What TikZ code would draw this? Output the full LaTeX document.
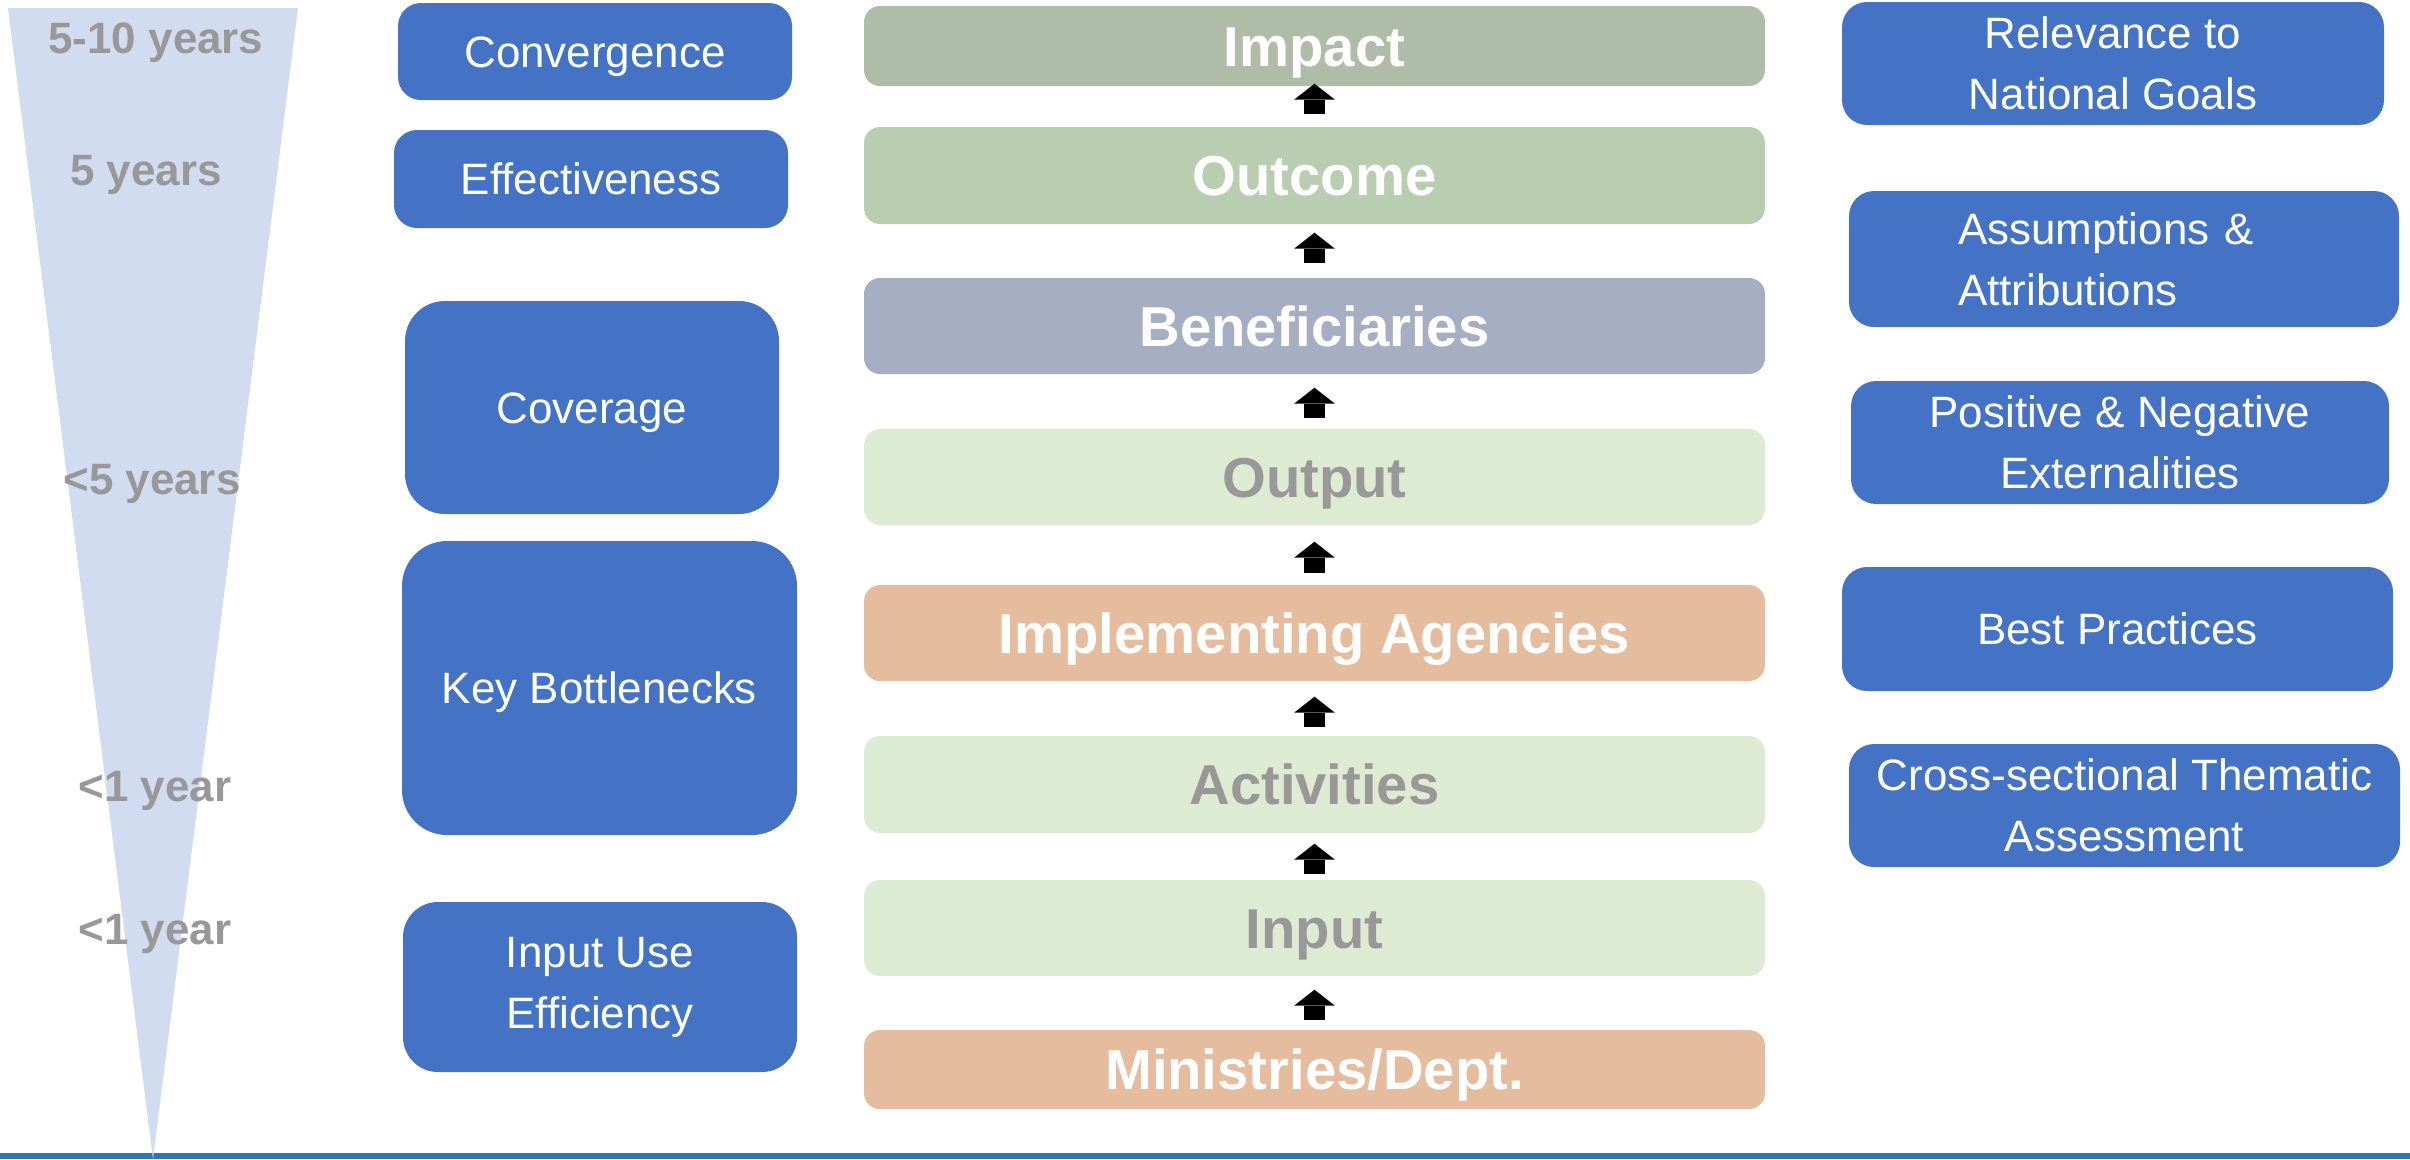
\documentclass[tikz,border=0pt]{standalone}
\usepackage{fontspec}
\setmainfont{Liberation Sans}
\usetikzlibrary{arrows.meta}
\definecolor{boxblue}{HTML}{4472C4}
\definecolor{funnelblue}{HTML}{D1DCF0}
\definecolor{barblue}{HTML}{2E75B6}
\definecolor{labelgray}{HTML}{989898}
\definecolor{impactgreen}{HTML}{AFBDA8}
\definecolor{outcomegreen}{HTML}{B9CEB1}
\definecolor{benefblue}{HTML}{A5AEC2}
\definecolor{palegreen}{HTML}{DDEBD3}
\definecolor{peach}{HTML}{E6BC9F}

\begin{document}
\begin{tikzpicture}[
  sidebox/.style={fill=boxblue, text=white, align=center, inner sep=0pt, rounded corners=0.23cm,
    font=\fontsize{12.5}{17.4}\selectfont},
  oneline/.style={text height=9pt, text depth=0pt},
  stage/.style={minimum width=9.01cm, inner sep=0pt, rounded corners=0.16cm,
    text height=11.5pt, text depth=0pt, font=\fontsize{16}{19}\selectfont\bfseries},
  yearlbl/.style={anchor=base, text=labelgray, font=\fontsize{12.5}{15}\selectfont\bfseries},
  uparrow/.style={line width=0.21cm, -{Triangle[width=0.41cm,length=0.16cm,line width=0pt]}}
]
\useasboundingbox (0,0) rectangle (24.10,-11.59);

% time scale
\fill[barblue] (0,-11.53) rectangle (24.10,-11.59);
\fill[funnelblue] (0.08,-0.08) -- (2.98,-0.08) -- (1.53,-11.59) -- cycle;
\node[yearlbl] (y1) at (1.56,-0.53) {5-10 years};
\node[yearlbl] (y2) at (1.46,-1.85) {5 years};
\node[yearlbl] (y3) at (1.52,-4.94) {<5 years};
\node[yearlbl] (y4) at (1.55,-8.01) {<1 year};
\node[yearlbl] (y5) at (1.55,-9.44) {<1 year};

% evaluation criteria
\node[sidebox, oneline, minimum width=3.94cm, minimum height=0.97cm] (conv) at (5.95,-0.515) {Convergence};
\node[sidebox, oneline, minimum width=3.94cm, minimum height=0.98cm] (eff) at (5.91,-1.79) {Effectiveness};
\node[sidebox, oneline, minimum width=3.74cm, minimum height=2.13cm, rounded corners=0.4cm] (cov) at (5.92,-4.075) {Coverage};
\node[sidebox, oneline, minimum width=3.95cm, minimum height=2.94cm, rounded corners=0.45cm] (bott) at (5.995,-6.88) {Key Bottlenecks};
\node[sidebox, minimum width=3.94cm, minimum height=1.70cm, rounded corners=0.35cm] (iue) at (6.00,-9.87) {Input Use\\Efficiency};

% results chain
\node[stage, fill=impactgreen, text=white, minimum height=0.80cm] (impact) at (13.145,-0.46) {Impact};
\node[stage, fill=outcomegreen, text=white, minimum height=0.97cm] (outcome) at (13.145,-1.755) {Outcome};
\node[stage, fill=benefblue, text=white, minimum height=0.96cm] (benef) at (13.145,-3.26) {Beneficiaries};
\node[stage, fill=palegreen, text=labelgray, minimum height=0.96cm] (output) at (13.145,-4.77) {Output};
\node[stage, fill=peach, text=white, minimum height=0.96cm] (agencies) at (13.145,-6.33) {Implementing Agencies};
\node[stage, fill=palegreen, text=labelgray, minimum height=0.97cm] (activities) at (13.145,-7.845) {Activities};
\node[stage, fill=palegreen, text=labelgray, minimum height=0.96cm] (input) at (13.145,-9.28) {Input};
\node[stage, fill=peach, text=white, minimum height=0.79cm] (ministries) at (13.145,-10.695) {Ministries/Dept.};

\foreach \lo/\hi/\sa/\sb in {outcome/impact/0.12/-0.03, benef/outcome/0.14/0.08, output/benef/0.10/0.13,
    agencies/output/0.11/0.16, activities/agencies/0.08/0.15, input/activities/0.05/0.10, ministries/input/0.09/0.13}
  \draw[uparrow, shorten <=\sa cm, shorten >=\sb cm] (\lo.north) -- (\hi.south);

% further questions
\node[sidebox, minimum width=5.42cm, minimum height=1.23cm, rounded corners=0.25cm] (nat) at (21.13,-0.635) {Relevance to\\National Goals};
\node[sidebox, text width=3.32cm, inner xsep=1.09cm, minimum height=1.36cm, align=left, rounded corners=0.25cm] (assum) at (21.24,-2.59) {Assumptions \&\\Attributions};
\node[sidebox, minimum width=5.38cm, minimum height=1.23cm, rounded corners=0.25cm] (ext) at (21.20,-4.425) {Positive \& Negative\\Externalities};
\node[sidebox, oneline, minimum width=5.51cm, minimum height=1.24cm, rounded corners=0.25cm] (best) at (21.175,-6.29) {Best Practices};
\node[sidebox, minimum width=5.51cm, minimum height=1.23cm, rounded corners=0.25cm] (cross) at (21.245,-8.055) {Cross-sectional Thematic\\Assessment};
\end{tikzpicture}
\end{document}
